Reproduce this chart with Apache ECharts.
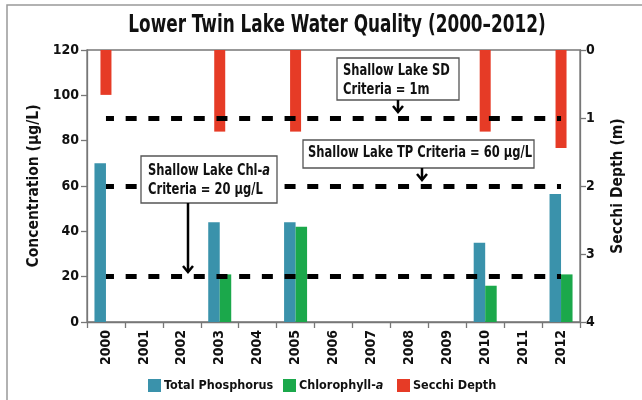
<!DOCTYPE html>
<html><head><meta charset="utf-8">
<script src="https://cdn.jsdelivr.net/npm/echarts@6/dist/echarts.min.js"></script>
<style>html,body{margin:0;padding:0;background:#fff}#c{width:642px;height:400px}</style>
</head><body><div id="c"></div>
<script>
const years = ['2000','2001','2002','2003','2004','2005','2006','2007','2008','2009','2010','2011','2012'];
const totalPhosphorus = [70, null, null, 44, null, 44, null, null, null, null, 35, null, 56.5];
const chlorophyllA = [null, null, null, 21, null, 42, null, null, null, null, 16, null, 21];
const secchiDepth = [0.66, null, null, 1.2, null, 1.2, null, null, null, null, 1.2, null, 1.44];
const concTicks = [0, 20, 40, 60, 80, 100, 120];
const depthTicks = [0, 1, 2, 3, 4];
const chlCriteria = 20, tpCriteria = 60, sdCriteria = 1;
const seriesNames = ['Total Phosphorus', 'Chlorophyll-a', 'Secchi Depth'];

const FONT = '"DejaVu Sans Condensed","DejaVu Sans",sans-serif';
const chart = echarts.init(document.getElementById('c'));
const dashStyle = {color:'#000', width:5, type:[11,11.7], dashOffset:3};
const mkData = (v)=>[[{coord:[years[0], v]},{coord:[years[years.length-1], v]}]];
const mk = (vals)=>({silent:true, symbol:['none','none'], label:{show:false}, lineStyle:dashStyle,
  data: vals.flatMap(mkData)});
const axisLineStyle = {color:'#777', width:1.3};
const rich = {n:{fontFamily:FONT, fontSize:12.5, fontWeight:'bold', color:'#111'},
              i:{fontFamily:FONT, fontSize:12.5, fontWeight:'bold', fontStyle:'italic', color:'#111'}};
const legendAt = (name, left)=>({left:left, top:374, itemWidth:13, itemHeight:13, icon:'rect', data:[name],
  formatter: n => n==='Chlorophyll-a' ? '{n|Chlorophyll-}{i|a}' : '{n|'+n+'}',
  textStyle:{fontFamily:FONT, fontSize:12.5, fontWeight:'bold', color:'#111', padding:[0,0,0,-2], rich:rich}});
chart.setOption({
  animation:false,
  textStyle:{fontFamily:FONT},
  legend:[legendAt(seriesNames[0],143), legendAt(seriesNames[1],278), legendAt(seriesNames[2],392)],
  grid:{left:87, right:62, top:50, bottom:78, show:true, borderColor:'#777', borderWidth:1.3},
  xAxis:[{type:'category', data:years, axisLine:{lineStyle:axisLineStyle},
    axisTick:{show:true, length:6, lineStyle:axisLineStyle},
    axisLabel:{rotate:90, margin:8, fontFamily:FONT, fontSize:14, fontWeight:'bold', color:'#111'}},
    {type:'category', data:years, show:false}],
  yAxis:[{type:'value', min:0, max:120, interval:20, name:'Concentration (µg/L)', nameLocation:'middle', nameGap:44,
    nameTextStyle:{fontFamily:FONT, fontSize:15.5, fontWeight:'bold', color:'#111'},
    axisLine:{show:true, lineStyle:axisLineStyle}, axisTick:{show:true, length:6, lineStyle:axisLineStyle},
    axisLabel:{margin:8, fontFamily:FONT, fontSize:14, fontWeight:'bold', color:'#111',
      formatter: v => concTicks.includes(v) ? String(v) : ''},
    splitLine:{show:false}},
    {type:'value', min:0, max:4, interval:1, inverse:true, position:'right', name:'Secchi Depth (m)',
    nameLocation:'middle', nameGap:30, nameRotate:90,
    nameTextStyle:{fontFamily:FONT, fontSize:15.5, fontWeight:'bold', color:'#111'},
    axisLine:{show:true, lineStyle:axisLineStyle}, axisTick:{show:true, length:6, lineStyle:axisLineStyle},
    axisLabel:{margin:6, fontFamily:FONT, fontSize:14, fontWeight:'bold', color:'#111',
      formatter: v => depthTicks.includes(v) ? String(v) : ''},
    splitLine:{show:false}}],
  series:[
    {name:seriesNames[0], type:'bar', data:totalPhosphorus, barWidth:11.5, barGap:'0%',
      itemStyle:{color:'#3A92AB'}},
    {name:seriesNames[1], type:'bar', data:chlorophyllA, barWidth:11.5, barGap:'0%',
      itemStyle:{color:'#1BA84B'}},
    {name:seriesNames[2], type:'bar', data:secchiDepth, xAxisIndex:1, yAxisIndex:1, barWidth:11,
      itemStyle:{color:'#E63B26'}, z:1},
    {name:'criteria-conc', type:'line', data:[], xAxisIndex:0, yAxisIndex:0, markLine:mk([tpCriteria, chlCriteria]), z:3},
    {name:'criteria-sd', type:'line', data:[], xAxisIndex:1, yAxisIndex:1, markLine:mk([sdCriteria]), z:3}
  ]
});

// annotations
const TS = {fontFamily:FONT, fontSize:16, fontWeight:'bold', fill:'#111'};
const arich = {n:{fontFamily:FONT, fontSize:16, fontWeight:'bold', fill:'#111', lineHeight:19},
               i:{fontFamily:FONT, fontSize:16, fontWeight:'bold', fontStyle:'italic', fill:'#111', lineHeight:19}};
function box(x,y,w,h){return {type:'rect', shape:{x:x,y:y,width:w,height:h}, style:{fill:'#fff', stroke:'#555', lineWidth:1.3}, z:100};}
function arrow(x,y1,y2){return [
  {type:'line', shape:{x1:x,y1:y1,x2:x,y2:y2-1}, style:{stroke:'#000', lineWidth:2.5}, z:100},
  {type:'polyline', shape:{points:[[x-5,y2-6],[x,y2],[x+5,y2-6]]}, style:{stroke:'#000', lineWidth:2.5, fill:null}, z:100}];}
chart.setOption({graphic:[
  {type:'rect', shape:{x:7,y:5,width:700,height:500}, style:{fill:null, stroke:'#999', lineWidth:1.5}, silent:true, z:0},
  {type:'text', x:337, y:13, scaleX:0.75, z:101, style:{fontFamily:FONT, fontSize:25, fontWeight:'bold', fill:'#111',
    text:'Lower Twin Lake Water Quality (2000–2012)', textAlign:'center'}},
  box(141,156,136,47),
  {type:'text', x:148, y:161, scaleX:0.8, z:101, style:{...TS, text:'{n|Shallow Lake Chl-}{i|a}\n{n|Criteria = 20 µg/L}', lineHeight:19, rich:arich}},
  ...arrow(188,203,272),
  box(337,58,122,42),
  {type:'text', x:343, y:61, scaleX:0.8, z:101, style:{...TS, text:'Shallow Lake SD\nCriteria = 1m', lineHeight:19}},
  ...arrow(398,100,112),
  box(303,140,231,28),
  {type:'text', x:308, y:145, scaleX:0.8, z:101, style:{...TS, text:'Shallow Lake TP Criteria = 60 µg/L'}},
  ...arrow(422,168,180)
]});
</script></body></html>
